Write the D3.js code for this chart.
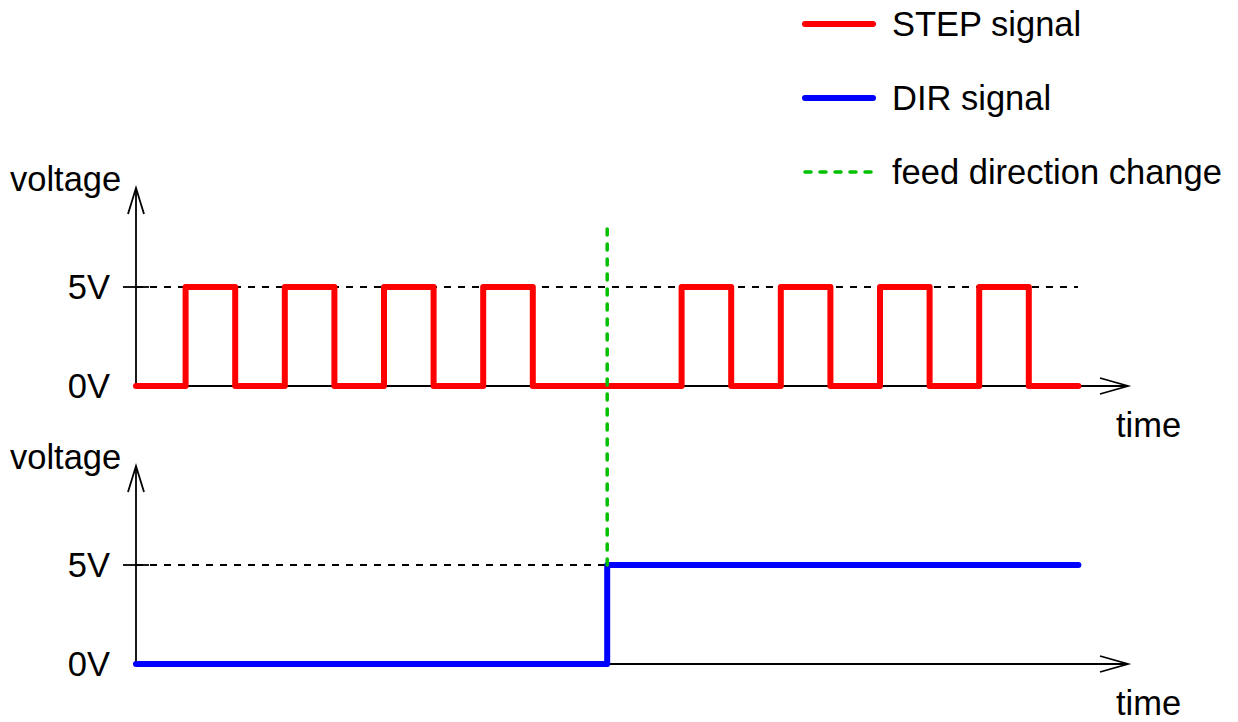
<!DOCTYPE html>
<html><head><meta charset="utf-8">
<script src="https://cdn.jsdelivr.net/npm/d3@7"></script>
<style>html,body{margin:0;padding:0;background:#fff;}svg{display:block;}</style>
</head><body>
<script>
// ---- data ----
const stepTimes  = [0, 1, 2, 3, 4, 5, 6, 7, 8, 11, 12, 13, 14, 15, 16, 17, 18, 19];
const stepLevels = [0, 5, 0, 5, 0, 5, 0, 5, 0, 5, 0, 5, 0, 5, 0, 5, 0, 0];
const dirTimes   = [0, 9.5, 19];
const dirLevels  = [0, 5, 5];
const changeTime = 9.5;
const changeFrom = 5;     // bottom panel level
const changeTo   = 8.2;   // top panel level
const tickValues = [0, 5];
const tickLabels = ["0V", "5V"];
const legendLabels = ["STEP signal", "DIR signal", "feed direction change"];
const legendColors = ["#ff0000", "#0000ff", "#00c000"];
const axisLabelY = "voltage";
const axisLabelX = "time";

const W = 1238, H = 722;
const svg = d3.select("body").append("svg").attr("width", W).attr("height", H);
const font = "'Liberation Sans', Arial, sans-serif";
const fs = 34.5;

const x = d3.scaleLinear().domain([0, 20]).range([136, 1128]);
const yTop = d3.scaleLinear().domain([0, 10]).range([386, 188]);
const yBot = d3.scaleLinear().domain([0, 10]).range([664, 466]);

function panel(y, times, levels, color) {
  const g = svg.append("g");
  // dashed 5V reference
  g.append("line").attr("x1", x(0)).attr("x2", x(19))
    .attr("y1", y(5)).attr("y2", y(5))
    .attr("stroke", "#000").attr("stroke-width", 1.3).attr("shape-rendering", "crispEdges")
    .attr("stroke-dasharray", "7,7");
  // axes
  g.append("line").attr("x1", x(0)).attr("x2", x(20)).attr("y1", y(0)).attr("y2", y(0))
    .attr("stroke", "#000").attr("stroke-width", 1.8);
  g.append("line").attr("x1", x(0)).attr("x2", x(0)).attr("y1", y(0)).attr("y2", y(10))
    .attr("stroke", "#000").attr("stroke-width", 1.8);
  // arrowheads
  g.append("path").attr("d", `M${x(20)-28},${y(0)-8}L${x(20)},${y(0)}L${x(20)-28},${y(0)+8}`)
    .attr("fill", "none").attr("stroke", "#000").attr("stroke-width", 1.8);
  g.append("path").attr("d", `M${x(0)-8},${y(10)+26}L${x(0)},${y(10)}L${x(0)+8},${y(10)+26}`)
    .attr("fill", "none").attr("stroke", "#000").attr("stroke-width", 1.8);
  // tick at 5V
  g.append("line").attr("x1", x(0) - 13).attr("x2", x(0) + 13).attr("y1", y(5)).attr("y2", y(5))
    .attr("stroke", "#000").attr("stroke-width", 1.8);
  // tick labels
  g.selectAll("text.tl").data(tickValues).join("text").attr("class", "tl")
    .attr("x", 110).attr("y", d => y(d)).attr("dy", "0.35em")
    .attr("text-anchor", "end").attr("font-family", font).attr("font-size", fs)
    .text((d, i) => tickLabels[i]);
  g.append("text").attr("x", 10).attr("y", y(10) + 3)
    .attr("font-family", font).attr("font-size", fs).text(axisLabelY);
  g.append("text").attr("x", 1116).attr("y", y(0) + 51)
    .attr("font-family", font).attr("font-size", fs).text(axisLabelX);
  // signal
  const pts = times.map((t, i) => [t, levels[i]]);
  const line = d3.line().x(d => x(d[0])).y(d => y(d[1])).curve(d3.curveStepAfter);
  g.append("path").attr("d", line(pts)).attr("fill", "none")
    .attr("stroke", color).attr("stroke-width", 6)
    .attr("stroke-linejoin", "round").attr("stroke-linecap", "round");
}

panel(yTop, stepTimes, stepLevels, legendColors[0]);
panel(yBot, dirTimes, dirLevels, legendColors[1]);

// feed direction change line
svg.append("line").attr("x1", x(changeTime)).attr("x2", x(changeTime))
  .attr("y1", yBot(changeFrom)).attr("y2", yTop(changeTo))
  .attr("stroke", legendColors[2]).attr("stroke-width", 3.5)
  .attr("stroke-dasharray", "6,9").attr("stroke-linecap", "round");

// legend
const lg = svg.append("g");
const legY = [24, 98, 172];
legendLabels.forEach((lab, i) => {
  const ln = lg.append("line").attr("x1", 805).attr("x2", 873)
    .attr("y1", legY[i]).attr("y2", legY[i])
    .attr("stroke", legendColors[i]).attr("stroke-linecap", "round");
  if (i === 2) ln.attr("stroke-width", 3.5).attr("stroke-dasharray", "6,9");
  else ln.attr("stroke-width", 6);
  lg.append("text").attr("x", 892).attr("y", legY[i]).attr("dy", "0.35em")
    .attr("font-family", font).attr("font-size", fs).text(lab);
});
</script>
</body></html>
